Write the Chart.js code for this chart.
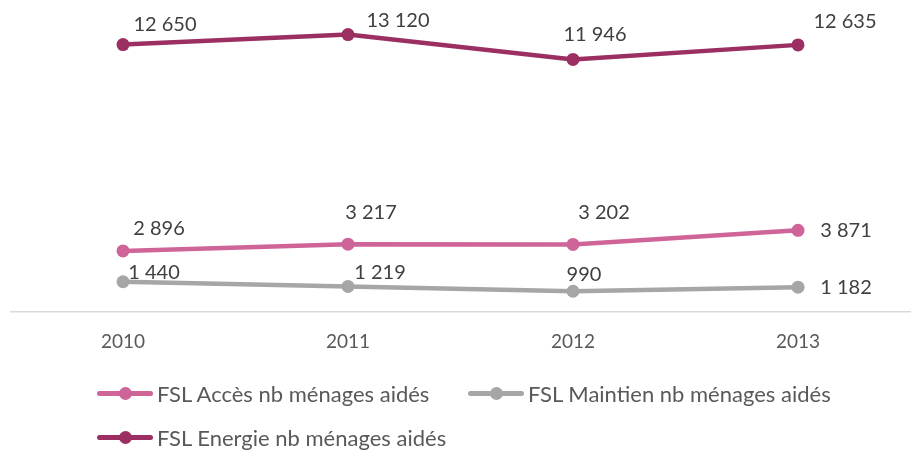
<!DOCTYPE html>
<html>
<head>
<meta charset="utf-8">
<script src="https://cdn.jsdelivr.net/npm/chart.js@4/dist/chart.umd.min.js"></script>
<style>
  html, body { margin: 0; padding: 0; background: #fff; }
  #cadre { position: relative; width: 917px; height: 452px; }
  #legende { position: absolute; left: 0; top: 0; width: 917px; height: 452px; pointer-events: none;
             font-family: Lato, "Open Sans", sans-serif; font-size: 22px; color: #595959; }
  .item { position: absolute; display: flex; align-items: center; white-space: nowrap; }
  .trait { position: relative; width: 56px; height: 5px; border-radius: 3px; margin-right: 4px; }
  .rond { position: absolute; left: 21.5px; top: -4px; width: 13px; height: 13px; border-radius: 50%; }
</style>
</head>
<body>
<div id="cadre">
  <canvas id="graphique" width="917" height="452"></canvas>
  <div id="legende"></div>
</div>
<script>
// données
const annees = ['2010', '2011', '2012', '2013'];
const fslAcces = [2896, 3217, 3202, 3871];
const fslMaintien = [1440, 1219, 990, 1182];
const fslEnergie = [12650, 13120, 11946, 12635];

// décalage des étiquettes par point (mise en page)
const decalAcces = [[36, -22], [23, -32], [31, -32], [48, 0]];
const decalMaintien = [[31, -9], [32, -14], [11, -17], [48, 0]];
const decalEnergie = [[42, -20], [50, -14], [22, -25], [47, -23]];

function formatFr(v) {
    return String(v).replace(/\B(?=(\d{3})+(?!\d))/g, ' ');
}

const etiquettes = {
    id: 'etiquettes',
    afterDatasetsDraw(chart) {
        const ctx = chart.ctx;
        ctx.save();
        ctx.font = '20px Lato, "Open Sans", sans-serif';
        ctx.fillStyle = '#404040';
        ctx.textAlign = 'center';
        ctx.textBaseline = 'middle';
        chart.data.datasets.forEach(function (ds, i) {
            const meta = chart.getDatasetMeta(i);
            meta.data.forEach(function (pt, j) {
                const d = ds.decalages[j];
                ctx.fillText(formatFr(ds.data[j]), pt.x + d[0], pt.y + d[1]);
            });
        });
        ctx.restore();
    }
};

const ctx = document.getElementById('graphique').getContext('2d');

const graphique = new Chart(ctx, {
    type: 'line',
    data: {
        labels: annees,
        datasets: [{
            label: 'FSL Accès nb ménages aidés',
            data: fslAcces,
            decalages: decalAcces,
            borderColor: '#CF6498',
            backgroundColor: '#CF6498',
            borderWidth: 4.5,
            pointRadius: 6.5,
            pointBorderWidth: 0,
            clip: false
        }, {
            label: 'FSL Maintien nb ménages aidés',
            data: fslMaintien,
            decalages: decalMaintien,
            borderColor: '#A6A6A6',
            backgroundColor: '#A6A6A6',
            borderWidth: 4.5,
            pointRadius: 6.5,
            pointBorderWidth: 0,
            clip: false
        }, {
            label: 'FSL Energie nb ménages aidés',
            data: fslEnergie,
            decalages: decalEnergie,
            borderColor: '#9B2F62',
            backgroundColor: '#9B2F62',
            borderWidth: 4.5,
            pointRadius: 6.5,
            pointBorderWidth: 0,
            clip: false
        }]
    },
    options: {
        responsive: false,
        animation: false,
        layout: {
            padding: { left: 10.5, right: 6.5, top: 16, bottom: 81 }
        },
        plugins: {
            legend: { display: false },
            tooltip: { enabled: false }
        },
        scales: {
            x: {
                offset: true,
                grid: { display: false, drawTicks: false },
                border: { display: true, color: '#D9D9D9', width: 1.5 },
                ticks: {
                    padding: 18,
                    color: '#595959',
                    font: { family: 'Lato, "Open Sans", sans-serif', size: 19 }
                }
            },
            y: {
                display: false,
                min: 0,
                max: 14000
            }
        }
    },
    plugins: [etiquettes]
});

// légende en HTML, construite depuis les séries
const legende = document.getElementById('legende');
const placesLegende = [[97, 393], [468, 393], [97, 437]];
graphique.data.datasets.forEach(function (ds, i) {
    const item = document.createElement('div');
    item.className = 'item';
    item.style.left = placesLegende[i][0] + 'px';
    item.style.top = (placesLegende[i][1] - 13) + 'px';
    item.style.height = '26px';
    const trait = document.createElement('span');
    trait.className = 'trait';
    trait.style.background = ds.borderColor;
    const rond = document.createElement('span');
    rond.className = 'rond';
    rond.style.background = ds.borderColor;
    trait.appendChild(rond);
    const texte = document.createElement('span');
    texte.textContent = ds.label;
    item.appendChild(trait);
    item.appendChild(texte);
    legende.appendChild(item);
});
</script>
</body>
</html>
